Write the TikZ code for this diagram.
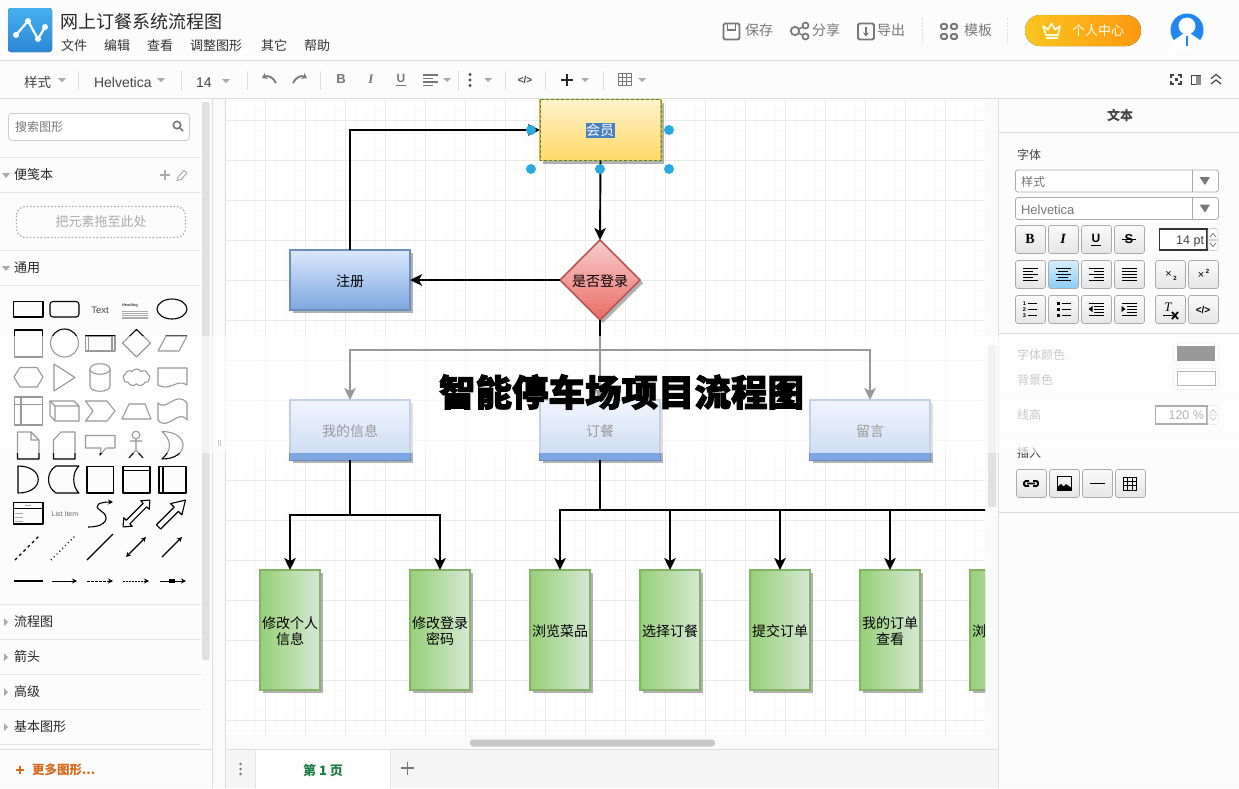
\documentclass[tikz,border=0pt]{standalone}
\usepackage{fontspec}
\setmainfont{Noto Sans CJK SC}
\newfontfamily\latn{Liberation Sans}
\newfontfamily\latnserif{Liberation Serif}
\newfontfamily\heavy[BoldFeatures={FakeBold=2.6}]{Noto Sans CJK SC}
\usetikzlibrary{arrows.meta,shapes.geometric,shapes.symbols,shadows}
\definecolor{bar}{HTML}{FCFCFC}
\definecolor{rule}{HTML}{DDDDDD}
\definecolor{ink}{HTML}{444444}
\definecolor{mid}{HTML}{777777}
\definecolor{pale}{HTML}{AAAAAA}
\definecolor{handle}{HTML}{29ABE2}
\definecolor{gminor}{HTML}{F9F9F9}
\definecolor{gmajor}{HTML}{EAEAEA}
\definecolor{orangeink}{HTML}{D9691A}
\definecolor{tabgreen}{HTML}{1E7B45}
\newcommand\up{\rule{0pt}{14.5pt}}
\tikzset{
  txt/.style={inner sep=0pt,outer sep=0pt,text height=#1*.88pt,text depth=#1*.12pt,font=\fontsize{#1}{#1}\selectfont},
  boxbase/.style={draw,line width=1.5pt,inner sep=0pt,outer sep=0pt,
    align=center,font=\fontsize{14}{16}\selectfont,
    drop shadow={shadow xshift=3pt,shadow yshift=-3pt,fill=black,opacity=.3}},
  ybox/.style={boxbase,draw=#1,minimum width=121pt,minimum height=61pt,
    top color=ytop,bottom color=ybot},
  bbox/.style={boxbase,draw=bedge,minimum width=120pt,minimum height=60pt,top color=btop,bottom color=bbot},
  gbox/.style={boxbase,draw=gedge,minimum width=60pt,minimum height=120pt,left color=gleft,right color=gright},
  rdia/.style={boxbase,draw=redge,shape=diamond,aspect=1,minimum size=80pt,top color=rtop,bottom color=rbot},
  conn/.style={draw=black,line width=1.9pt,-{Stealth[length=12pt,width=11.5pt,inset=3pt]}},
  handledot/.style={circle,fill=handle,draw=none,minimum size=10pt,inner sep=0pt},
  rulel/.style={draw=rule,line width=.8pt},
  sep/.style={draw=rule,line width=.8pt,dashed,dash pattern=on 2pt off 1.5pt},
  ic/.style={draw=mid,line width=1.8pt,rounded corners=1.5pt},
  caret/.style={fill=pale,draw=none},
  shp/.style={draw=black,line width=1.1pt},
  btn/.style={draw=pale,line width=.7pt,rounded corners=2.5pt,top color=white!98!black,bottom color=white!90!black},
  btnon/.style={draw=pale,line width=.7pt,rounded corners=2.5pt,top color=hitop,bottom color=hibot},
  bl/.style={draw=black,line width=1pt},
  tri/.style={fill=pale,draw=none},
}
\definecolor{ytop}{HTML}{FFF2CC}\definecolor{ybot}{HTML}{FFD966}\definecolor{yedge}{HTML}{D6B656}
\definecolor{btop}{HTML}{DAE8FC}\definecolor{bbot}{HTML}{7EA6E0}\definecolor{bedge}{HTML}{6C8EBF}
\definecolor{gleft}{HTML}{97D077}\definecolor{gright}{HTML}{D5E8D4}\definecolor{gedge}{HTML}{82B366}
\definecolor{rtop}{HTML}{F8CECC}\definecolor{rbot}{HTML}{EA6B66}\definecolor{redge}{HTML}{B85450}
\definecolor{hitop}{HTML}{D6EEFC}\definecolor{hibot}{HTML}{8CCDF5}
\definecolor{logotop}{HTML}{45B0EE}\definecolor{logobot}{HTML}{2C86D6}
\definecolor{goldl}{HTML}{FCC51F}\definecolor{goldr}{HTML}{FD980E}
\definecolor{avatar}{HTML}{1E88F0}
\definecolor{selblue}{HTML}{4A7EC4}
\begin{document}
\begin{tikzpicture}[x=1pt,y=-1pt]
\useasboundingbox (0,0) rectangle (1239,788);
\fill[white] (0,0) rectangle (1239,788);
% ---------- panels
\fill[bar] (0,0) rectangle (1239,98);
\fill[bar] (0,99) rectangle (212,749);
\fill[white!98!black] (212,99) rectangle (226,788);
\fill[bar] (998,99) rectangle (1239,788);
\fill[white!98!black] (985,99) rectangle (998,749);
\fill[white!98!black] (226,735) rectangle (998,749);
\fill[white!96!black] (226,749) rectangle (998,788);
\fill[bar] (0,749) rectangle (212,788);
% ---------- canvas with grid and diagram
\begin{scope}
\clip (226,99) rectangle (985,735);
\fill[white] (226,99) rectangle (985,735);
\foreach \x in {235,245,...,985} \draw[gminor,line width=.6pt] (\x,99) -- (\x,735);
\foreach \y in {100,110,...,735} \draw[gminor,line width=.6pt] (226,\y) -- (985,\y);
\foreach \x in {265,305,...,985} \draw[gmajor,line width=.6pt] (\x,99) -- (\x,735);
\foreach \y in {120,160,...,735} \draw[gmajor,line width=.6pt] (226,\y) -- (985,\y);
% nodes
\node[ybox=yedge] (hy) at (600.5,130) {};
\draw[green!45!black,line width=.8pt,dashed,dash pattern=on 3pt off 2pt,opacity=.6] (hy.north west) rectangle (hy.south east);
\fill[selblue] (586,123) rectangle (614.5,138);
\node[txt=14,text=white] (hytxt) at (600,130.5) {会员};
\node[bbox] (reg) at (350,280) {\up 注册};
\node[rdia] (dia) at (600,280) {\up 是否登录};
\node[bbox] (info) at (350,430) {\up 我的信息};
\node[bbox] (order) at (600,430) {\up 订餐};
\node[bbox] (msg) at (870,430) {\up 留言};
\foreach \c in {350,600,870}
  \fill[bbot] (\c-60,452.5) rectangle (\c+60,460);
\foreach \c in {350,600,870}
  \draw[bedge,line width=1pt] (\c-60,460) -- (\c+60,460);
\node[gbox] (g1) at (290,630) {\up 修改个人\\信息};
\node[gbox] (g2) at (440,630) {\up 修改登录\\密码};
\node[gbox] (o1) at (560,630) {\up 浏览菜品};
\node[gbox] (o2) at (670,630) {\up 选择订餐};
\node[gbox] (o3) at (780,630) {\up 提交订单};
\node[gbox] (o4) at (890,630) {\up 我的订单\\查看};
\node[gbox] (o5) at (1000,630) {};
\node[txt=14,anchor=west] (o5txt) at (972,631) {浏};
% connectors
\draw[conn] (reg.north) |- (hy.west);
\draw[conn] (hy.south) -- (dia.north);
\draw[conn] (dia.west) -- (reg.east);
\draw[conn] (dia.south) -- (order.north);
\draw[conn] (dia.south) -- ++(0,30) -| (info.north);
\draw[conn] (dia.south) -- ++(0,30) -| (msg.north);
\draw[conn] (info.south) -- ++(0,55) -| (g1.north);
\draw[conn] (info.south) -- ++(0,55) -| (g2.north);
\draw[conn] (order.south) -- ++(0,50) -| (o1.north);
\draw[conn] (order.south) -- ++(0,50) -| (o2.north);
\draw[conn] (order.south) -- ++(0,50) -| (o3.north);
\draw[conn] (order.south) -- ++(0,50) -| (o4.north);
\draw[conn] (order.south) -- ++(0,50) -| (o5.north);
% selection handles
\foreach \n/\x/\y in {h1/531/130,h2/669/130,h3/531/169,h4/600/169,h5/669/169}
  \node[handledot] (\n) at (\x,\y) {};
\end{scope}
% ---------- header
\draw[rulel] (0,60.5) -- (1239,60.5);
\draw[rulel] (0,98.5) -- (1239,98.5);
\fill[top color=logotop,bottom color=logobot,rounded corners=3pt] (8,8) rectangle (52,52);
\draw[white,line width=2.2pt] (16,35) -- (28,21) -- (38,39) -- (45,27);
\foreach \x/\y in {16/35,28/21,38/39,45/27} \fill[white] (\x,\y) circle (3);
\node[txt=18,anchor=west,text=black!85] (apptitle) at (60,22) {网上订餐系统流程图};
\foreach \n/\x/\t in {m1/61/文件,m2/104/编辑,m3/147/查看,m4/190/调整图形,m5/261/其它,m6/304/帮助}
  \node[txt=13,anchor=west,text=black!80] (\n) at (\x,46) {\t};
% header right
\draw[ic] (723.5,23.5) rectangle (739.5,39.5);
\draw[ic,rounded corners=0pt,line width=1.5pt] (727.5,24) -- (727.5,30) -- (735.5,30) -- (735.5,24);
\node[txt=14,anchor=west,text=mid] (save) at (745,30.5) {保存};
\draw[mid,line width=1.7pt] (795,31) circle (4.2) (805.5,25.5) circle (3) (805.5,36.5) circle (3);
\draw[mid,line width=1.4pt] (798.5,29) -- (803,27) (798.5,33) -- (803,35.5);
\node[txt=14,anchor=west,text=mid] (share) at (812,30.5) {分享};
\draw[ic] (858,23.5) rectangle (874,39.5);
\draw[mid,line width=1.5pt,-{Stealth[length=4pt,width=6pt]}] (866,26.5) -- (866,36.5);
\node[txt=14,anchor=west,text=mid] (export) at (877,30.5) {导出};
\draw[sep] (922,18) -- (922,44);
\foreach \x/\y in {941/24,951/24,941/34,951/34} \draw[ic] (\x,\y) rectangle ++(6,5);
\node[txt=14,anchor=west,text=mid] (tmpl) at (964,30.5) {模板};
\draw[sep] (1007,18) -- (1007,44);
\fill[left color=goldl,right color=goldr,rounded corners=15.5pt] (1025,15) rectangle (1141,46);
\draw[white!90!yellow,line width=1.6pt,line join=round] (1043,26) -- (1046,35) -- (1058,35) -- (1060,26) -- (1055,29.5) -- (1051.5,23.5) -- (1048,29.5) -- cycle (1046,38) -- (1058,38);
\node[txt=13,text=white] (vip) at (1098,30.5) {个人中心};
\fill[avatar] (1187,30) circle (16.5);
\fill[white] (1187,26) circle (8.5);
\fill[white] (1187,31) -- (1170,43) -- (1176,50) -- (1198,50) -- (1204,43) -- cycle;
\fill[avatar] (1185.8,36) rectangle (1188.2,46);
% ---------- toolbar
\newcommand\caretat[2]{\fill[caret] (#1-4,#2-2) -- (#1+4,#2-2) -- (#1,#2+2) -- cycle;}
\node[txt=13.5,anchor=west,text=ink] (tb1) at (24,82) {样式};
\caretat{62}{80}
\draw[rulel] (78.5,71) -- (78.5,90);
\node[txt=14,anchor=west,text=ink,font=\latn\fontsize{14}{14}\selectfont] (tb2) at (94,82) {Helvetica};
\caretat{161}{80}
\draw[rulel] (181.5,71) -- (181.5,90);
\node[txt=14,anchor=west,text=ink,font=\latn\fontsize{14}{14}\selectfont] (tb3) at (196,82) {14};
\caretat{226}{81}
\draw[rulel] (247.5,71) -- (247.5,90);
\draw[mid,line width=1.8pt,{Stealth[length=5pt,width=7pt]}-] (262,78) .. controls (268,75) and (273,77) .. (276,83);
\draw[mid,line width=1.8pt,{Stealth[length=5pt,width=7pt]}-] (307,78) .. controls (301,75) and (296,77) .. (293,83);
\draw[rulel] (320.5,71) -- (320.5,90);
\node[txt=13,text=mid,font=\latn\bfseries\fontsize{13}{13}\selectfont] (tbb) at (341,78.5) {B};
\node[txt=13,text=mid,font=\latnserif\itshape\bfseries\fontsize{13}{13}\selectfont] (tbi) at (371,79) {I};
\node[txt=12,text=mid,font=\latn\bfseries\fontsize{12}{12}\selectfont] (tbu) at (401,78) {U};
\draw[mid,line width=1pt] (396,85) -- (406,85);
\foreach \y/\w in {75/15,78.5/10,82/15,85.5/10} \draw[mid,line width=1.2pt] (423,\y) -- ++(\w,0);
\caretat{447}{80}
\draw[rulel] (458.5,71) -- (458.5,90);
\foreach \y in {74.5,80,85.5} \fill[ink] (470,\y) circle (1.6);
\caretat{488}{80}
\draw[rulel] (505.5,71) -- (505.5,90);
\node[txt=10,text=ink,font=\latn\bfseries\fontsize{10}{10}\selectfont] (tbcode) at (525,80) {</>};
\draw[rulel] (545.5,71) -- (545.5,90);
\draw[black!85,line width=2.2pt] (561,80) -- (573,80) (567,74) -- (567,86);
\caretat{585}{80}
\draw[rulel] (603.5,71) -- (603.5,90);
\draw[mid,line width=1pt] (618,73.5) rectangle (631,85.5) (622.3,73.5) -- (622.3,85.5) (626.6,73.5) -- (626.6,85.5) (618,77.5) -- (631,77.5) (618,81.5) -- (631,81.5);
\caretat{642}{80}
% right toolbar icons
\draw[ink,line width=1.1pt] (1171,78) -- (1171,75) -- (1174,75) (1178,75) -- (1181,75) -- (1181,78) (1181,81) -- (1181,84) -- (1178,84) (1174,84) -- (1171,84) -- (1171,81);
\fill[ink] (1174.5,78) rectangle (1177.5,81);
\draw[ink,line width=1pt] (1191.5,75.5) rectangle (1200.5,84.5);
\fill[ink!60] (1196,75.5) rectangle (1200.5,84.5);
\draw[ink,line width=1.2pt] (1211,78.5) -- (1216,74.5) -- (1221,78.5) (1211,84) -- (1216,80) -- (1221,84);
% ---------- left sidebar
\draw[rulel] (212.5,99) -- (212.5,788);
\draw[rulel] (225.5,99) -- (225.5,788);
\fill[white!88!black,rounded corners=2pt] (202,102) rectangle (209.5,660);
\draw[mid,line width=.6pt] (218.2,440) -- (218.2,446) (220.2,440) -- (220.2,446);
\draw[fill=white,draw=white!80!black,line width=.8pt,rounded corners=3.5pt] (8.5,113.5) rectangle (189.5,140.5);
\node[txt=12,anchor=west,text=mid] (search) at (15,126.5) {搜索图形};
\draw[mid,line width=1.6pt] (177,125) circle (3.7) (179.8,127.8) -- (183,131);
\foreach \y in {157.5,192.5,250.5,285.5,604.5,639.5,674.5,709.5,744.5} \draw[draw=white!90!black,line width=.8pt] (0,\y) -- (201,\y);
\draw[rulel] (0,749.5) -- (212,749.5);
\fill[tri] (2,173) -- (10,173) -- (6,178) -- cycle;
\node[txt=13,anchor=west,text=black!85] (s1) at (14,175) {便笺本};
\draw[pale,line width=1.2pt] (160,175) -- (170,175) (165,170) -- (165,180);
\draw[pale,line width=.9pt] (177,180.5) -- (178,177) -- (184,170.5) -- (187,173) -- (181,179.5) -- cycle;
\draw[draw=pale,line width=1.2pt,dash pattern=on 1.5pt off 2pt,rounded corners=9pt] (16.5,206.5) rectangle (185.5,237.5);
\node[txt=13,text=pale] (drop) at (101,222) {把元素拖至此处};
\fill[tri] (2,266) -- (10,266) -- (6,271) -- cycle;
\node[txt=13,anchor=west,text=black!85] (s2) at (14,268) {通用};
\foreach \n/\y/\t in {s3/622/流程图,s4/657/箭头,s5/692/高级,s6/727/基本图形}{
  \fill[tri] (4,\y-4) -- (8,\y) -- (4,\y+4) -- cycle;
  \node[txt=13,anchor=west,text=black!85] (\n) at (14,\y) {\t};
}
\draw[orangeink,line width=1.5pt] (16,770) -- (24,770) (20,766) -- (20,774);
\node[txt=12.5,anchor=west,text=orangeink] (more) at (32,770) {\bfseries 更多图形...};
% palette
\begin{scope}[every path/.append style={line join=round}]
\draw[shp] (13.5,301.5) rectangle (43,317);
\draw[shp,rounded corners=3pt] (50,301.5) rectangle (79,317);
\node[txt=9.5,font=\latn\fontsize{9.5}{9.5}\selectfont,text=ink] (ptext) at (100,310) {Text};
\node[txt=4,font=\latn\bfseries\fontsize{4}{4}\selectfont,text=ink,anchor=west] (phead) at (122,305) {Heading};
\foreach \y in {311,313,315,317,318.5} \draw[pale,line width=.5pt] (122,\y) -- (148,\y);
\draw[shp] (172,309) ellipse (15 and 10);
% row 2
\draw[shp] (14.5,330) rectangle (42.5,357);
\draw[shp] (64.5,343) circle (14);
\draw[shp] (85.5,336) rectangle (115,351) (88.5,336) -- (88.5,351) (112,336) -- (112,351);
\draw[shp] (136.5,329.5) -- (150.5,343) -- (136.5,357) -- (122.5,343) -- cycle;
\draw[shp] (158,351) -- (166,336) -- (187,336) -- (179,351) -- cycle;
% row 3
\draw[shp] (14,377) -- (20,367.5) -- (37,367.5) -- (43,377) -- (37,387) -- (20,387) -- cycle;
\draw[shp] (54,364) -- (75,377.5) -- (54,391) -- cycle;
\draw[shp] (90,369) .. controls (90,362) and (110,362) .. (110,369) .. controls (110,376) and (90,376) .. (90,369) -- (90,386) .. controls (90,393) and (110,393) .. (110,386) -- (110,369);
\node[cloud,cloud puffs=9,cloud puff arc=120,aspect=1.9,draw=black,line width=1.1pt,minimum width=27pt,minimum height=17pt,inner sep=0pt] (pcloud) at (136.5,377.5) {};
\draw[shp] (158,368) -- (187,368) -- (187,385) .. controls (177,378) and (170,392) .. (158,385) -- cycle;
% row 4
\draw[shp] (14.5,397) rectangle (42.5,425) (21,397) -- (21,425) (14.5,404.5) -- (42.5,404.5);
\draw[shp] (50,401) -- (74,401) -- (79,406) -- (79,421) -- (55,421) -- (50,415.5) -- cycle (50,401) -- (55,406) -- (79,406) (55,406) -- (55,421);
\draw[shp] (85.5,401) -- (107,401) -- (115,411) -- (107,421) -- (85.5,421) -- (93,411) -- cycle;
\draw[shp] (122,419) -- (129,404) -- (145,404) -- (151,419) -- cycle;
\draw[shp] (158,403) .. controls (167,412) and (176,390) .. (187,403) -- (187,420) .. controls (178,408) and (168,432) .. (158,420) -- cycle;
% row 5
\draw[shp] (17.5,432) -- (31,432) -- (39,440) -- (39,459) -- (17.5,459) -- cycle (31,432) -- (31,440) -- (39,440);
\draw[shp] (53.5,440) -- (61,432) -- (75,432) -- (75,459) -- (53.5,459) -- cycle;
\draw[shp] (85.5,435.5) -- (115,435.5) -- (115,448) -- (106,448) -- (100,455) -- (101,448) -- (85.5,448) -- cycle;
\draw[shp] (136,435) circle (3.8) (136,439) -- (136,450) (130,441) -- (142,441) (129,458) -- (136,450) -- (143,458);
\draw[shp] (162,431.5) .. controls (190,431.5) and (190,459) .. (162,459) .. controls (172,450) and (172,441) .. cycle;
% row 6
\draw[shp] (18,466) .. controls (45,466) and (45,493) .. (18,493) -- cycle;
\draw[shp] (56,466) -- (79,466) .. controls (72,472) and (72,487) .. (79,493) -- (56,493) .. controls (46,487) and (46,472) .. (56,466) -- cycle;
\draw[shp] (87,466.5) rectangle (113.5,493);
\draw[shp] (123,466.5) rectangle (150,493) (123,470.5) -- (150,470.5);
\draw[shp] (159,466.5) rectangle (186,493) (163,466.5) -- (163,493);
% row 7
\draw[shp] (13.5,502.5) rectangle (43,524) (13.5,508.5) -- (43,508.5);
\foreach \y in {513,517,521} \draw[pale,line width=.6pt] (15,\y) -- (23,\y);
\draw[pale,line width=.6pt] (25,505.5) -- (31,505.5);
\node[txt=7,font=\latn\fontsize{7}{7}\selectfont,text=ink!80] (plist) at (65,513.5) {List Item};
\draw[draw=black,line width=1.1pt,-{Stealth[length=5pt,width=5pt]}] (88,527) .. controls (108,527) and (110,516) .. (101,511) .. controls (92,505) and (100,502) .. (113,502);
\begin{scope}[shift={(136.5,513.5)},rotate=45]
\draw[shp] (-19,0) -- (-12,6) -- (-12,2.5) -- (12,2.5) -- (12,6) -- (19,0) -- (12,-6) -- (12,-2.5) -- (-12,-2.5) -- (-12,-6) -- cycle;
\end{scope}
\begin{scope}[shift={(172,513.5)},rotate=45]
\draw[shp] (-19,3) -- (6,3) -- (6,8) -- (19,0) -- (6,-8) -- (6,-3) -- (-19,-3) -- cycle;
\end{scope}
% row 8
\draw[draw=black,line width=1.1pt,dash pattern=on 3pt off 3pt] (15,560) -- (40,535);
\draw[draw=black,line width=1.1pt,dash pattern=on 1pt off 3pt] (51,560) -- (76,535);
\draw[shp] (87,560) -- (113,534);
\draw[draw=black,line width=1.1pt,{Stealth[length=5pt,width=5pt]}-{Stealth[length=5pt,width=5pt]}] (126,557) -- (146,537);
\draw[draw=black,line width=1.1pt,-{Stealth[length=5pt,width=5pt]}] (162,557) -- (182,537);
% row 9
\draw[draw=black,line width=2.4pt] (14,581) -- (43,581);
\draw[draw=black,line width=1pt,-{Stealth[length=5pt,width=5pt]}] (52,581) -- (77,581);
\draw[draw=black,line width=.9pt,dash pattern=on 3pt off 1pt,-{Stealth[length=5pt,width=5pt]}] (87,581) -- (113,581);
\draw[draw=black,line width=.9pt,dash pattern=on 2pt off 1pt,-{Stealth[length=5pt,width=5pt]}] (123,581) -- (149,581);
\draw[draw=black,line width=1pt,-{Stealth[length=5pt,width=5pt]}] (160,581) -- (186,581);
\fill[black] (169,579) rectangle (175,583);
\end{scope}
% ---------- right panel
\draw[rulel] (998.5,99) -- (998.5,788);
\fill[white!88!black,rounded corners=2pt] (988,345) rectangle (996,507);
\node[txt=13,text=ink] (rt) at (1120,116) {\bfseries 文本};
\draw[rulel] (999,132.5) -- (1239,132.5);
\node[txt=12,anchor=west,text=ink] (rfont) at (1017,155) {字体};
\foreach \y/\h in {170/22,197.5/22}{
  \draw[fill=white,draw=pale,line width=.8pt,rounded corners=2.5pt] (1015.5,\y) rectangle (1218.5,\y+\h);
  \draw[draw=pale,line width=.8pt] (1192.5,\y) -- (1192.5,\y+\h);
  \fill[mid] (1199.5,\y+7) -- (1210,\y+7) -- (1205,\y+15) -- cycle;
}
\node[txt=12,anchor=west,text=mid] (rst) at (1021,182) {样式};
\node[txt=13,anchor=west,text=mid,font=\latn\fontsize{13}{13}\selectfont] (rhv) at (1021,209.5) {Helvetica};
\foreach \x in {1015.5,1048.5,1081.5,1114.5} \draw[btn] (\x,225.5) rectangle ++(30,28);
\foreach \x/\s in {1015.5/btn,1048.5/btnon,1081.5/btn,1114.5/btn,1155.5/btn,1188.5/btn} \draw[\s] (\x,260.5) rectangle ++(30,28);
\foreach \x in {1015.5,1048.5,1081.5,1114.5,1155.5,1188.5} \draw[btn] (\x,295.5) rectangle ++(30,28);
\node[txt=13,font=\latnserif\bfseries\fontsize{14}{14}\selectfont] (bB) at (1030,239) {B};
\node[txt=13,font=\latnserif\bfseries\itshape\fontsize{14}{14}\selectfont] (bI) at (1063,239) {I};
\node[txt=12,font=\latn\bfseries\fontsize{12}{12}\selectfont] (bU) at (1096,238) {U};
\draw[bl,line width=1.2pt] (1091,245.5) -- (1101,245.5);
\node[txt=13,font=\latn\bfseries\fontsize{13}{13}\selectfont] (bS) at (1129,239) {S};
\draw[bl,line width=1.2pt] (1122,239.5) -- (1136,239.5);
% spin box
\draw[fill=white,draw=black!80,line width=1.2pt] (1159.5,229) rectangle (1207,250);
\node[txt=12,anchor=east,font=\latn\fontsize{12.5}{12.5}\selectfont,text=ink] (r14) at (1204,240) {14 pt};
\draw[fill=white,draw=white!80!black,line width=.6pt,rounded corners=2pt] (1208,228.5) rectangle (1218,250.5);
\draw[mid,line width=.8pt] (1210,237) -- (1213,233.5) -- (1216,237) (1210,243) -- (1213,246.5) -- (1216,243) (1209,240) -- (1217,240);
% align icons
\foreach \y/\w in {268/15,271/9.5,274/15,277/9.5,280/15} \draw[bl] (1023,\y) -- ++(\w,0);
\foreach \y/\w in {268/15,271/10,274/15,277/10,280/15} \draw[bl] (1063-\w/2,\y) -- ++(\w,0);
\foreach \y/\w in {268/15,271/9.5,274/15,277/9.5,280/15} \draw[bl] (1103.5-\w,\y) -- ++(\w,0);
\foreach \y in {268,271,274,277,280} \draw[bl] (1122,\y) -- ++(15,0);
\node[txt=10,font=\latn\fontsize{11}{11}\selectfont] (bsub) at (1168.5,274) {×};
\node[txt=6,font=\latn\bfseries\fontsize{6}{6}\selectfont] (bsub2) at (1175,278) {2};
\node[txt=10,font=\latn\fontsize{11}{11}\selectfont] (bsup) at (1201,275) {×};
\node[txt=6,font=\latn\bfseries\fontsize{6}{6}\selectfont] (bsup2) at (1207.5,271) {2};
% list icons
\node[inner sep=0pt,font=\latn\bfseries\fontsize{5.5}{5.8}\selectfont,align=center] (bnum) at (1024.5,309.5) {1\\2\\3};
\foreach \y in {303,309,315} \draw[bl] (1028,\y) -- ++(9,0);
\foreach \y in {303,309,315} {\fill (1056.5,\y-1.5) rectangle ++(3,3); \draw[bl] (1061.5,\y) -- ++(9,0);}
\foreach \y in {303,306,309,312,315} \draw[bl] (1094,\y) -- ++(10,0);
\fill (1088.5,309) -- (1092.5,306) -- (1092.5,312) -- cycle;
\draw[bl] (1089,303) -- (1104,303) (1089,315) -- (1104,315);
\foreach \y in {306,309,312} \draw[bl] (1127,\y) -- ++(10,0);
\fill (1125.5,309) -- (1121.5,306) -- (1121.5,312) -- cycle;
\draw[bl] (1122,303) -- (1137,303) (1122,315) -- (1137,315);
\node[txt=12,font=\latnserif\itshape\fontsize{13}{13}\selectfont] (bT) at (1168,307) {T};
\draw[bl] (1163,315.5) -- (1173,315.5);
\draw[black,line width=1.8pt] (1172,312) -- (1178,319) (1178,312) -- (1172,319);
\node[txt=10,font=\latn\bfseries\fontsize{10}{10}\selectfont] (bcode) at (1203,309.5) {</>};
\draw[rulel] (999,333.5) -- (1239,333.5);
\node[txt=12,anchor=west,text=mid] (rc1) at (1017,355) {字体颜色};
\draw[draw=white!85!black,fill=white,line width=.8pt,rounded corners=4pt] (1173.5,343) rectangle (1218.5,364);
\fill[black] (1177,346) rectangle (1215,361);
\node[txt=12,anchor=west,text=mid] (rc2) at (1017,380) {背景色};
\draw[draw=white!85!black,fill=white,line width=.8pt,rounded corners=4pt] (1173.5,368.5) rectangle (1218.5,389.5);
\draw[draw=black!70,fill=white,line width=.9pt] (1177,371.5) rectangle (1215,385.5);
\draw[draw=white!92!black,line width=.8pt] (999,396.5) -- (1239,396.5);
\node[txt=12,anchor=west,text=mid] (rlh) at (1017,415) {线高};
\draw[fill=white,draw=black!80,line width=1.2pt] (1155.5,406) rectangle (1207,424);
\node[txt=12,anchor=east,font=\latn\fontsize{12.5}{12.5}\selectfont,text=ink] (r120) at (1204,415) {120 \%};
\draw[fill=white,draw=white!80!black,line width=.6pt,rounded corners=2pt] (1208,405.5) rectangle (1218,424.5);
\draw[mid,line width=.8pt] (1210,413) -- (1213,409.5) -- (1216,413) (1210,417) -- (1213,420.5) -- (1216,417) (1209,415) -- (1217,415);
\draw[draw=white!92!black,line width=.8pt] (999,433.5) -- (1239,433.5);
\node[txt=12,anchor=west,text=ink] (rins) at (1017,453) {插入};
\foreach \x in {1016.5,1049.5,1082.5,1115.5} \draw[btn] (\x,469.5) rectangle ++(30,28);
\draw[black,line width=1.8pt,rounded corners=1.5pt] (1029,481) -- (1024,481) -- (1024,486) -- (1029,486) (1033,481) -- (1038,481) -- (1038,486) -- (1033,486) (1027,483.5) -- (1035,483.5);
\draw[bl] (1057.5,476.5) rectangle (1071.5,490.5);
\fill (1058,490) -- (1058,486.5) -- (1061,484) -- (1063.5,486.5) -- (1066,484) -- (1071,487.5) -- (1071,490) -- cycle;
\draw[bl] (1090,483.5) -- (1105,483.5);
\draw[bl,line width=.8pt] (1123.5,477) rectangle (1136.5,490) (1123.5,481.3) -- (1136.5,481.3) (1123.5,485.6) -- (1136.5,485.6) (1127.8,477) -- (1127.8,490) (1132.2,477) -- (1132.2,490);
\draw[rulel] (999,512.5) -- (1239,512.5);
% ---------- bottom tabs
\draw[rulel] (226,749.5) -- (998,749.5);
\fill[white] (255,750) rectangle (390,788);
\draw[draw=white!90!black,line width=.6pt] (255,750) -- (255,788) (390,750) -- (390,788);
\foreach \y in {764,769,774} \fill[mid] (240.5,\y) circle (1.4);
\node[txt=13,text=tabgreen] (tab) at (323,771) {\bfseries 第 1 页};
\draw[mid,line width=1.6pt] (401,768) -- (414,768) (407.5,761.5) -- (407.5,774.5);
\fill[white!78!black,rounded corners=3pt] (470,739.5) rectangle (715,746.5);
% ---------- fade band
\fill[white,opacity=.6] (0,335.5) rectangle (1239,452.5);
% ---------- title
\node[inner sep=0pt,text=black,font=\heavy\bfseries\fontsize{36.5}{36.5}\selectfont] (bigtitle) at (621.5,392) {智能停车场项目流程图};
\end{tikzpicture}
\end{document}
